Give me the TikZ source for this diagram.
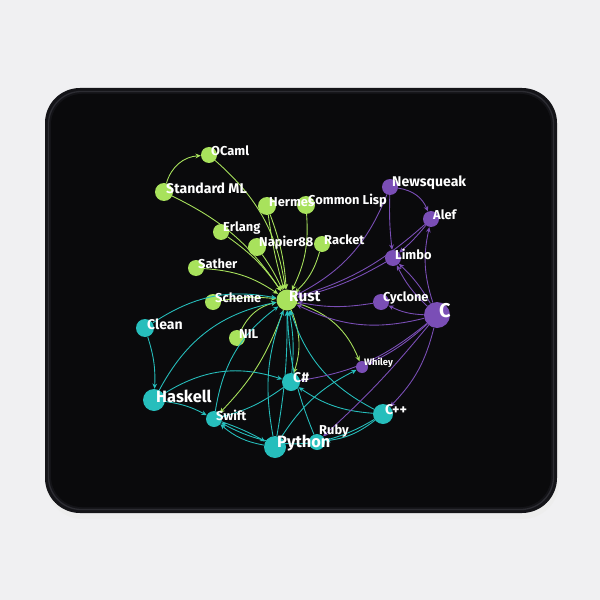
\documentclass[tikz,border=0pt]{standalone}
\usepackage{fontspec}
\setmainfont{Fira Sans}
\usetikzlibrary{arrows.meta}

\definecolor{paper}{RGB}{240,240,242}
\definecolor{padedge}{RGB}{20,20,24}
\definecolor{padstitch}{RGB}{44,44,50}
\definecolor{padblack}{RGB}{10,10,12}
\definecolor{lgreen}{RGB}{168,226,92}
\definecolor{lteal}{RGB}{38,190,188}
\definecolor{lpurple}{RGB}{122,78,182}

\begin{document}
\begin{tikzpicture}[x=0.03cm,y=-0.03cm,
  lang/.style={circle, inner sep=0, minimum size=0.48cm},
  gnode/.style={lang, fill=lgreen},
  tnode/.style={lang, fill=lteal},
  pnode/.style={lang, fill=lpurple},
  lbl/.style={text=white, anchor=west, inner sep=0, xshift=0.06cm, yshift=0.12cm, font=\bfseries\fontsize{#1}{#1}\selectfont},
  lbl/.default=11,
  every edge/.style={draw, line width=0.75pt, -{Stealth[length=4.5pt,width=4pt]}},
  gedge/.style={draw=lgreen},
  tedge/.style={draw=lteal},
  pedge/.style={draw=lpurple}]

% mouse pad
\fill[paper] (0,0) rectangle (600,600);
\useasboundingbox (0,0) rectangle (600,600);
\fill[black!7, rounded corners=1.1cm] (46,92) rectangle (559,519);
\fill[padedge, rounded corners=1.05cm] (45,88) rectangle (557,513);
\draw[padstitch, line width=1.1pt, rounded corners=0.98cm] (48.5,91.5) rectangle (553.5,509.5);
\fill[padblack, rounded corners=0.92cm] (51,94) rectangle (551,507);

% languages
\node[gnode] (ocaml) at (209,155) {};
\node[gnode, minimum size=0.54cm] (sml) at (164,192) {};
\node[gnode, minimum size=0.54cm] (hermes) at (267,206) {};
\node[gnode, minimum size=0.54cm] (clisp) at (306,205) {};
\node[gnode] (erlang) at (221,232) {};
\node[gnode, minimum size=0.54cm] (napier) at (257,247) {};
\node[gnode] (racket) at (322,244) {};
\node[gnode] (sather) at (196,268) {};
\node[gnode] (scheme) at (213,302) {};
\node[gnode, minimum size=0.63cm] (rust) at (287,300) {};
\node[gnode] (nil) at (237,338) {};
\node[tnode, minimum size=0.54cm] (clean) at (145,328) {};
\node[tnode, minimum size=0.54cm] (csharp) at (291,382) {};
\node[tnode, minimum size=0.66cm] (haskell) at (154,400) {};
\node[tnode] (swift) at (214,419) {};
\node[tnode, minimum size=0.6cm] (cpp) at (383,414) {};
\node[tnode, minimum size=0.66cm] (python) at (275,447) {};
\node[tnode] (ruby) at (317,442) {};
\node[pnode] (newsqueak) at (390,187) {};
\node[pnode] (alef) at (431,219) {};
\node[pnode] (limbo) at (393,258) {};
\node[pnode] (cyclone) at (381,302) {};
\node[pnode, minimum size=0.78cm] (c) at (437,315) {};
\node[pnode, minimum size=0.36cm] (whiley) at (362,367) {};

% green
\path (sml) edge[gedge, bend left=35] (ocaml);
\path (ocaml) edge[gedge, bend left=20] (rust);
\path (sml) edge[gedge, bend left=15] (rust);
\path (hermes) edge[gedge, bend left=8] (rust);
\path (hermes) edge[gedge, bend right=4] (rust);
\path (clisp) edge[gedge, bend left=15] (rust);
\path (erlang) edge[gedge, bend left=10] (rust);
\path (napier) edge[gedge, bend left=5] (rust);
\path (racket) edge[gedge, bend left=15] (rust);
\path (sather) edge[gedge, bend left=15] (rust);
\path (scheme) edge[gedge, bend left=8] (rust);
\path (nil) edge[gedge, bend left=25] (rust);
\path (rust) edge[gedge, bend left=25] (whiley);
\path (rust) edge[gedge, bend left=20] (csharp);
\path (rust) edge[gedge, bend left=12] (swift);

% teal
\path (clean) edge[tedge, bend left=22] (rust);
\path (clean) edge[tedge, bend left=10] (haskell);
\path (haskell) edge[tedge, bend left=25] (rust);
\path (haskell) edge[tedge, bend left=25] (csharp);
\path (haskell) edge[tedge, bend left=10] (swift);
\path (swift) edge[tedge, bend left=5] (python);
\path (swift) edge[tedge, bend left=22] (rust);
\path (csharp) edge[tedge, bend left=10] (swift);
\path (python) edge[tedge, bend left=15] (swift);
\path (cpp) edge[tedge, bend left=30] (swift);
\path (python) edge[tedge, bend left=15] (rust);
\path (python) edge[tedge, bend right=5] (rust);
\path (csharp) edge[tedge, bend right=8] (rust);
\path (ruby) edge[tedge, bend left=10] (rust);
\path (cpp) edge[tedge, bend left=22] (rust);
\path (cpp) edge[tedge, bend left=15] (csharp);
\path (python) edge[tedge, bend left=15] (whiley);
\path (cpp) edge[tedge, bend left=15] (ruby);

% purple
\path (newsqueak) edge[pedge, bend left=30] (alef);
\path (newsqueak) edge[pedge, bend left=20] (rust);
\path (newsqueak) edge[pedge, bend right=4] (limbo);
\path (alef) edge[pedge, bend left=5] (limbo);
\path (limbo) edge[pedge, bend left=8] (rust);
\path (alef) edge[pedge, bend left=12] (rust);
\path (c) edge[pedge, bend left=15] (alef);
\path (c) edge[pedge, bend left=10] (limbo);
\path (c) edge[pedge, bend right=8] (limbo);
\path (c) edge[pedge, bend left=12] (cyclone);
\path (cyclone) edge[pedge, bend left=10] (rust);
\path (c) edge[pedge, bend left=20] (rust);
\path (c) edge[pedge, bend left=8] (whiley);
\path (c) edge[pedge, bend left=15] (csharp);
\path (c) edge[pedge, bend left=15] (cpp);
\path (c) edge[pedge, bend left=4] (ruby);

% names
\node[lbl] (ocamltxt) at (ocaml) {OCaml};
\node[lbl=12] (smltxt) at (sml) {Standard ML};
\node[lbl] (hermestxt) at (hermes) {Hermes};
\node[lbl] (clisptxt) at (clisp) {Common Lisp};
\node[lbl] (erlangtxt) at (erlang) {Erlang};
\node[lbl] (napiertxt) at (napier) {Napier88};
\node[lbl] (rackettxt) at (racket) {Racket};
\node[lbl] (sathertxt) at (sather) {Sather};
\node[lbl] (schemetxt) at (scheme) {Scheme};
\node[lbl=13] (rusttxt) at (rust) {Rust};
\node[lbl] (niltxt) at (nil) {NIL};
\node[lbl=12] (cleantxt) at (clean) {Clean};
\node[lbl=12] (csharptxt) at (csharp) {C\#};
\node[lbl=14] (haskelltxt) at (haskell) {Haskell};
\node[lbl] (swifttxt) at (swift) {Swift};
\node[lbl=12] (cpptxt) at (cpp) {C++};
\node[lbl=14] (pythontxt) at (python) {Python};
\node[lbl, yshift=0.2cm] (rubytxt) at (ruby) {Ruby};
\node[lbl=12] (newsqueaktxt) at (newsqueak) {Newsqueak};
\node[lbl] (aleftxt) at (alef) {Alef};
\node[lbl] (limbotxt) at (limbo) {Limbo};
\node[lbl] (cyclonetxt) at (cyclone) {Cyclone};
\node[lbl=17] (ctxt) at (c) {C};
\node[lbl=8] (whileytxt) at (whiley) {Whiley};

\end{tikzpicture}
\end{document}
